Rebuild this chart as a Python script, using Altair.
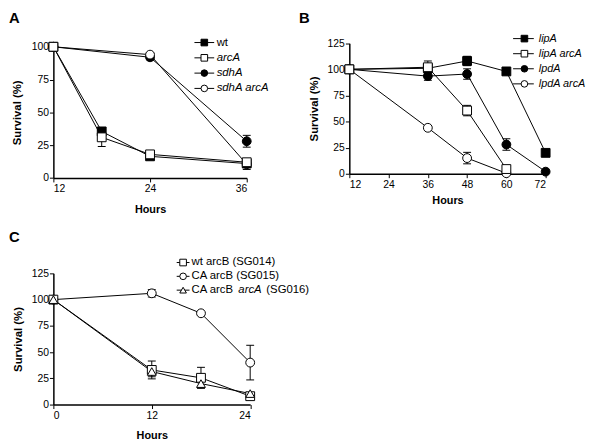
import altair as alt
import pandas as pd

# ---------------- data ----------------
# Panel A
hours_a = [12, 18, 24, 36]
names_a = ["wt", "arcA", "sdhA", "sdhA arcA"]
wt_a = [100, 35.5, 16.5, 11]
wt_a_err = [0, 2.5, 1, 1]
arca_a = [100, 31, 18, 12]
arca_a_err = [0, 7, 1.5, 1.5]
sdha_a = [100, None, 92, 28]
sdha_a_err = [0, None, 2, 4.5]
sdharca_a = [100, None, 94, 10.5]
sdharca_a_err = [0, None, 1.5, 4]

# Panel B
hours_b = [12, 36, 48, 60, 72]
names_b = ["lipA", "lipA arcA", "lpdA", "lpdA arcA"]
lipa_b = [100, 101, 108, 98, 20]
lipa_b_err = [0, 0, 4.5, 0, 0]
lipaarca_b = [100, 102, 60.5, 4.5, None]
lipaarca_b_err = [0, 6, 5, 3, None]
lpda_b = [100, 93.5, 95.5, 28, 2]
lpda_b_err = [0, 4, 5, 5.5, 0]
lpdaarca_b = [100, 44, 15, 0.5, None]
lpdaarca_b_err = [0, 0, 5.5, 0, None]

# Panel C
hours_c = [0, 12, 18, 24]
names_c = ["wt arcB (SG014)", "CA arcB (SG015)", "CA arcB arcA (SG016)"]
wtarcb_c = [100, 33, 25.5, 8]
wtarcb_c_err = [0, 8.5, 10, 0]
caarcb_c = [100, 106, 87, 40]
caarcb_c_err = [0, 3.5, 0, 16.5]
caarcbarca_c = [100, 31.5, 20, 10.5]
caarcbarca_c_err = [0, 5, 4, 0]

# tick values
xticks_a = [12, 24, 36]
yticks_a = [0, 25, 50, 75, 100]
xticks_b = [12, 24, 36, 48, 60, 72]
yticks_b = [0, 25, 50, 75, 100, 125]
xticks_c = [0, 12, 24]
yticks_c = [0, 25, 50, 75, 100, 125]

# legend label pieces: (text, italic)
legend_a = [[("wt", False)], [("arcA", True)], [("sdhA", True)], [("sdhA arcA", True)]]
legend_b = [[("lipA", True)], [("lipA arcA", True)], [("lpdA", True)], [("lpdA arcA", True)]]
legend_c = [[("wt arcB (SG014)", False)], [("CA arcB (SG015)", False)],
            [("CA arcB", False), ("arcA", True), ("(SG016)", False)]]

# ---------------- styles ----------------
FONT = "Liberation Sans"
W, H = 592, 440
STYLE = {
    "wt": ("square", "black"), "arcA": ("square", "white"),
    "sdhA": ("circle", "black"), "sdhA arcA": ("circle", "white"),
    "lipA": ("square", "black"), "lipA arcA": ("square", "white"),
    "lpdA": ("circle", "black"), "lpdA arcA": ("circle", "white"),
    "wt arcB (SG014)": ("square", "white"), "CA arcB (SG015)": ("circle", "white"),
    "CA arcB arcA (SG016)": ("triangle-up", "white"),
}
# approximate Arial advance widths (per 1000 em) for text segment placement
ADV = {"C": 722, "A": 667, " ": 278, "a": 556, "r": 333, "c": 500, "B": 667}


def text_width(s, size):
    return sum(ADV.get(ch, 556) for ch in s) * size / 1000.0


def long_table(hours, names, values, errs, zorder):
    rows = []
    for name, vals, es in zip(names, values, errs):
        for h, v, e in zip(hours, vals, es):
            if v is None:
                continue
            shp, fil = STYLE[name]
            rows.append({"series": name, "hours": h, "value": v, "lo": v - e,
                         "hi": v + e, "err": e, "shape": shp, "fill": fil,
                         "z": zorder.index(name)})
    df = pd.DataFrame(rows)
    return df.sort_values(["z", "hours"]).reset_index(drop=True)


def panel(df, xdom, xticks, xrng, ydom, yticks, yrng, xtitle_dy, ytitle_dx):
    xs = alt.Scale(domain=xdom, range=xrng, nice=False, zero=False)
    ys = alt.Scale(domain=ydom, range=yrng, nice=False, zero=False)
    xaxis = alt.Axis(values=xticks, orient="bottom", offset=yrng[0] - H,
                     title="Hours", titleX=(xrng[0] + xrng[1]) / 2, titleY=xtitle_dy,
                     titleBaseline="middle", titleAlign="center", titleFontSize=11,
                     labelPadding=2, format="d", grid=False)
    yaxis = alt.Axis(values=yticks, orient="left", offset=-xrng[0],
                     title="Survival (%)", titleX=ytitle_dx, titleY=(yrng[0] + yrng[1]) / 2,
                     titleBaseline="middle", titleAlign="center", titleFontSize=11.5,
                     labelPadding=1, format="d", grid=False)
    base = alt.Chart(df)
    xenc = alt.X("hours:Q", scale=xs, axis=xaxis)
    yval = alt.Y("value:Q", scale=ys, axis=yaxis)
    ylo = alt.Y("lo:Q", scale=ys, axis=yaxis)
    yhi = alt.Y("hi:Q", scale=ys, axis=yaxis)
    lines = base.mark_line(color="black", strokeWidth=1).encode(
        x=xenc, y=yval, detail="series:N")
    eb = base.transform_filter("datum.err > 0")
    bars = eb.mark_rule(color="black", strokeWidth=1).encode(x=xenc, y=ylo, y2="hi:Q")
    cap_lo = eb.mark_tick(orient="horizontal", size=8, thickness=1, color="black",
                          opacity=1).encode(x=xenc, y=ylo)
    cap_hi = eb.mark_tick(orient="horizontal", size=8, thickness=1, color="black",
                          opacity=1).encode(x=xenc, y=yhi)
    pts = base.mark_point(filled=True, stroke="black", strokeWidth=1, size=80,
                          opacity=1, fillOpacity=1).encode(
        x=xenc, y=yval,
        shape=alt.Shape("shape:N", scale=None),
        fill=alt.Fill("fill:N", scale=None),
    )
    return alt.layer(lines, bars, cap_lo, cap_hi, pts)


df_a = long_table(hours_a, names_a, [wt_a, arca_a, sdha_a, sdharca_a],
                  [wt_a_err, arca_a_err, sdha_a_err, sdharca_a_err],
                  ["sdhA", "sdhA arcA", "wt", "arcA"])
df_b = long_table(hours_b, names_b, [lipa_b, lipaarca_b, lpda_b, lpdaarca_b],
                  [lipa_b_err, lipaarca_b_err, lpda_b_err, lpdaarca_b_err],
                  ["lpdA", "lpdA arcA", "lipA", "lipA arcA"])
df_c = long_table(hours_c, names_c, [wtarcb_c, caarcb_c, caarcbarca_c],
                  [wtarcb_c_err, caarcb_c_err, caarcbarca_c_err],
                  ["CA arcB (SG015)", "wt arcB (SG014)", "CA arcB arcA (SG016)"])

p_a = panel(df_a, [12, 36], xticks_a, [46, 242], [0, 100], yticks_a, [169.3, 36.3], 31.5, -36)
p_b = panel(df_b, [12, 72], xticks_b, [346, 545], [0, 125], yticks_b, [165, 32.7], 27, -35)
p_c = panel(df_c, [0, 24], xticks_c, [46, 245.5], [0, 125], yticks_c, [399, 266], 31, -35)

# ---------------- legends (layout in pixels) ----------------
leg_layout = [
    # names, segments, line x1, x2, marker x, text x, first row y, row step, font size
    (names_a, legend_a, 189, 209, 199, 211.5, 32, 15.5, 11.5),
    (names_b, legend_b, 512, 533, 523.5, 538, 28, 15.3, 11),
    (names_c, legend_c, 171, 184, 177.5, 186, 255, 14, 11.5),
]
sym_rows, txt_rows = [], []
for names, segs, x1, x2, mx, tx, y0, dy, fs in leg_layout:
    for i, (name, pieces) in enumerate(zip(names, segs)):
        y = y0 + i * dy
        shp, fil = STYLE[name]
        sym_rows.append({"x1": x1, "x2": x2, "mx": mx, "y": y, "shape": shp, "fill": fil})
        cx = tx
        for text, ital in pieces:
            txt_rows.append({"x": cx, "y": y, "text": text, "fs": fs,
                             "style": "italic" if ital else "normal"})
            cx += text_width(text + " ", fs) + 1.5
sym_df = pd.DataFrame(sym_rows)
txt_df = pd.DataFrame(txt_rows)

px = lambda f: alt.X(f, scale=None, axis=None)
py = lambda f: alt.Y(f, scale=None, axis=None)

leg_lines = alt.Chart(sym_df).mark_rule(color="black", strokeWidth=1).encode(
    x=px("x1:Q"), x2="x2:Q", y=py("y:Q"))
leg_pts = alt.Chart(sym_df).mark_point(filled=True, stroke="black", strokeWidth=1,
                                        size=45, opacity=1).encode(
    x=px("mx:Q"), y=py("y:Q"),
    shape=alt.Shape("shape:N", scale=None), fill=alt.Fill("fill:N", scale=None))
leg_txt_n = alt.Chart(txt_df).transform_filter("datum.style == 'normal'").mark_text(
    align="left", baseline="middle", font=FONT, color="black").encode(
    x=px("x:Q"), y=py("y:Q"), text="text:N", size=alt.Size("fs:Q", scale=None))
leg_txt_i = alt.Chart(txt_df).transform_filter("datum.style == 'italic'").mark_text(
    align="left", baseline="middle", font=FONT, fontStyle="italic",
    color="black").encode(x=px("x:Q"), y=py("y:Q"), text="text:N",
                          size=alt.Size("fs:Q", scale=None))

letters_df = pd.DataFrame({"text": ["A", "B", "C"], "x": [1, 295, 1], "y": [7, 7, 229.5]})
letters = alt.Chart(letters_df).mark_text(
    align="left", baseline="middle", font=FONT, fontSize=15, fontWeight="bold",
    color="black").encode(x=px("x:Q"), y=py("y:Q"), text="text:N")

chart = alt.layer(p_a, p_b, p_c, leg_lines, leg_pts, leg_txt_n, leg_txt_i, letters).resolve_scale(
    x="independent", y="independent", size="independent"
).properties(
    width=W, height=H, autosize=alt.AutoSizeParams(type="none"), padding=0
).configure_view(stroke=None).configure_axis(
    grid=False, domainColor="black", domainWidth=1.5, tickColor="black", tickWidth=1,
    tickSize=4, labelColor="black", labelFont=FONT, labelFontSize=10.5,
    titleFont=FONT, titleFontWeight="bold", titleColor="black",
)

chart.save("out.html", embed_options={"renderer": "svg", "actions": False})
